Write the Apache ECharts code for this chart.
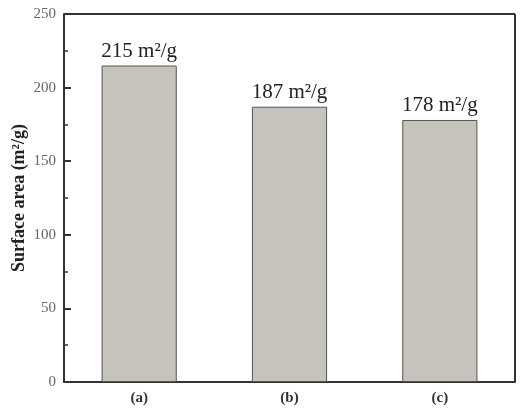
<!DOCTYPE html>
<html>
<head>
<meta charset="utf-8">
<script src="https://cdn.jsdelivr.net/npm/echarts@6/dist/echarts.min.js"></script>
<style>
  html, body { margin: 0; padding: 0; background: #fff; }
  #chart { width: 526px; height: 412px; }
</style>
</head>
<body>
<div id="chart"></div>
<script>
const samples = ['(a)', '(b)', '(c)'];
const surfaceArea = [215, 187, 178];
const barLabels = ['215 m²/g', '187 m²/g', '178 m²/g'];

const chart = echarts.init(document.getElementById('chart'));
const serif = '"Liberation Serif", "Times New Roman", serif';

chart.setOption({
  animation: false,
  grid: { left: 64, right: 11, top: 14, bottom: 30, outerBoundsMode: 'none', containLabel: false },
  xAxis: {
    type: 'category',
    data: samples,
    axisLine: { lineStyle: { color: '#333', width: 2 } },
    axisTick: { show: false },
    axisLabel: {
      color: '#333', fontFamily: serif, fontWeight: 'bold', fontSize: 15, margin: 9
    }
  },
  yAxis: {
    type: 'value',
    min: 0,
    max: 250,
    interval: 50,
    name: 'Surface area (m²/g)',
    nameLocation: 'middle',
    nameGap: 36,
    nameMoveOverlap: false,
    nameTextStyle: { color: '#222', fontFamily: serif, fontWeight: 'bold', fontSize: 18 },
    axisLine: { show: true, lineStyle: { color: '#333', width: 2 } },
    axisTick: { show: true, inside: true, length: 7, lineStyle: { color: '#333', width: 2 } },
    minorTick: { show: true, splitNumber: 2, length: 4, lineStyle: { color: '#333', width: 1.5 } },
    splitLine: { show: false },
    axisLabel: { color: '#666', fontFamily: serif, fontSize: 15, margin: 8 }
  },
  series: [
    {
      type: 'bar',
      data: surfaceArea,
      barWidth: '50%',
      itemStyle: { color: '#c6c3bc', borderColor: '#555', borderWidth: 1 },
      label: {
        show: true,
        position: 'top',
        distance: 4,
        color: '#222',
        fontFamily: serif,
        fontSize: 21,
        formatter: p => barLabels[p.dataIndex]
      }
    },
    {
      // top border of the frame
      type: 'line',
      data: [],
      markLine: {
        silent: true,
        symbol: 'none',
        label: { show: false },
        lineStyle: { color: '#333', width: 2, type: 'solid' },
        data: [{ yAxis: 250 }]
      }
    }
  ]
});

// right border of the frame
const rect = chart.getModel().getComponent('grid').coordinateSystem.getRect();
chart.setOption({
  graphic: [{
    type: 'line',
    shape: { x1: rect.x + rect.width, y1: rect.y, x2: rect.x + rect.width, y2: rect.y + rect.height },
    style: { stroke: '#333', lineWidth: 2 }
  }]
});
</script>
</body>
</html>
